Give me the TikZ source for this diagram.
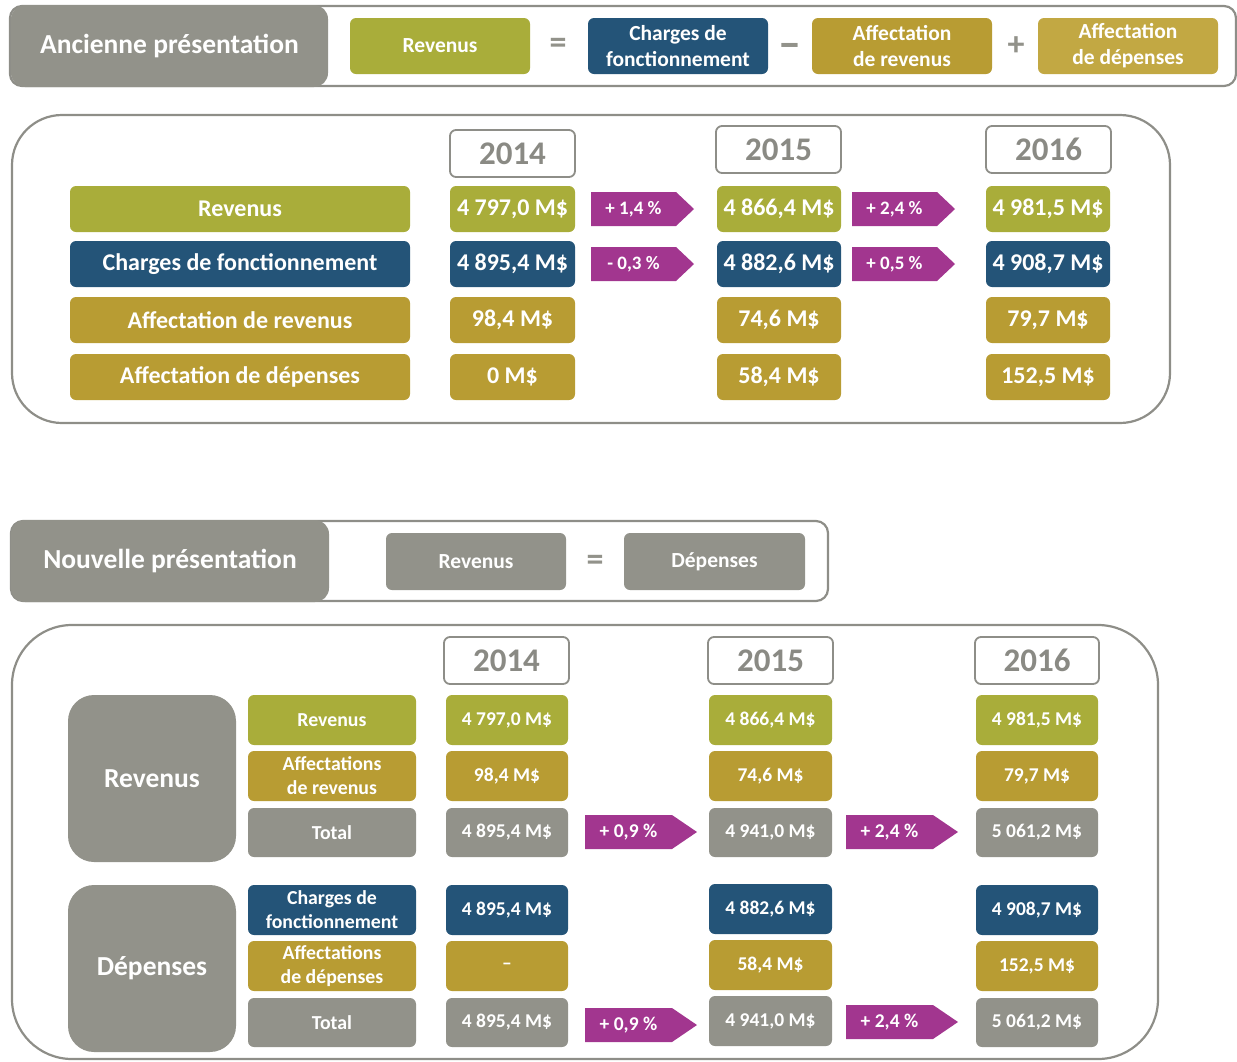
\documentclass[tikz,border=0pt]{standalone}
\usepackage{fontspec}
\setmainfont{Carlito}
\definecolor{cOlive}{HTML}{A9AD3A}
\definecolor{cNavy}{HTML}{245478}
\definecolor{cGold}{HTML}{B89C33}
\definecolor{cGoldL}{HTML}{C2A843}
\definecolor{cGray}{HTML}{92928A}
\definecolor{cMag}{HTML}{A2368F}
\definecolor{cLine}{HTML}{8E8E88}
\definecolor{cYear}{HTML}{8A8A84}
\newcommand\fs[2]{\fontsize{#1}{#2}\selectfont\bfseries}
\tikzset{
  box/.style={rounded corners=6pt, inner sep=0pt, outer sep=0pt, text=white, align=center},
  yearbox/.style={box, draw=cLine, line width=1.8pt, fill=white, text=cYear, font=\fs{33}{36}},
  panel/.style={draw=cLine, line width=2.2pt, inner sep=0pt, outer sep=0pt},
  sign/.style={text=cGray, font=\fs{34}{36}, inner sep=0pt},
  pct/.style={text=white, inner sep=0pt},
}
% \bx{name}{x1}{y1}{x2}{y2}{style}{text}
\newcommand\bx[7]{\node[box,#6,minimum width={(#4-#2)*1pt},minimum height={(#5-#3)*1pt}] (#1) at ({(#2+#4)/2},{(#3+#5)/2}) {#7};}
% \arr{name}{x1}{y1}{x2}{y2}{tip}{font}{text}
\newcommand\arr[8]{\fill[cMag] (#2,#3) -- ({#4-#6},#3) -- (#4,{(#3+#5)/2}) -- ({#4-#6},#5) -- (#2,#5) -- cycle;
  \node[pct,font=#7] (#1) at ({(#2+#4-#6)/2},{(#3+#5)/2}) {#8};}
\begin{document}
\begin{tikzpicture}[x=1pt,y=-1pt]
\useasboundingbox (0,0) rectangle (1237,1061);
% ---------------- Ancienne présentation header
\bx{hdrA}{10}{6}{1236}{86}{panel,rounded corners=12pt,fill=white}{}
\bx{titleA}{11}{5}{328}{87}{fill=cGray,rounded corners=14pt,font=\fs{27.5}{30}}{Ancienne présentation}
\bx{hRev}{350}{18}{530}{74}{fill=cOlive,font=\fs{21.5}{26}}{Revenus}
\node[sign] (eqA) at (558,46) {=};
\bx{hCh}{588}{18}{768}{74}{fill=cNavy,font=\fs{21.5}{26}}{Charges de\\fonctionnement}
\node[sign,font=\fs{46}{46}] (minA) at (790,51) {–};
\bx{hAR}{812}{18}{992}{74}{fill=cGold,font=\fs{21.5}{26}}{Affectation\\de revenus}
\node[sign] (plA) at (1016,46) {+};
\bx{hAD}{1038}{18}{1218}{74}{fill=cGoldL,font=\fs{21.5}{26}}{Affectation\\de dépenses}
% ---------------- top panel
\bx{panA}{12}{115}{1170}{423}{panel,rounded corners=50pt}{}
\bx{yA14}{450}{130}{575}{177}{yearbox}{2014}
\bx{yA15}{716}{126}{841}{173}{yearbox}{2015}
\bx{yA16}{986}{126}{1111}{173}{yearbox}{2016}
\tikzset{lA/.style={font=\fs{24}{26}}, vA/.style={font=\fs{24}{26}}}
\bx{rA1}{70}{186}{410}{232}{fill=cOlive,lA}{Revenus}
\bx{rA2}{70}{241}{410}{287}{fill=cNavy,lA}{Charges de fonctionnement}
\bx{rA3}{70}{297}{410}{343}{fill=cGold,lA}{Affectation de revenus}
\bx{rA4}{70}{354}{410}{400}{fill=cGold,lA}{Affectation de dépenses}
\bx{a14r}{450}{186}{575}{232}{fill=cOlive,vA}{4 797,0 M\$}
\bx{a15r}{717}{186}{841}{232}{fill=cOlive,vA}{4 866,4 M\$}
\bx{a16r}{986}{186}{1110}{232}{fill=cOlive,vA}{4 981,5 M\$}
\bx{a14c}{450}{241}{575}{287}{fill=cNavy,vA}{4 895,4 M\$}
\bx{a15c}{717}{241}{841}{287}{fill=cNavy,vA}{4 882,6 M\$}
\bx{a16c}{986}{241}{1110}{287}{fill=cNavy,vA}{4 908,7 M\$}
\bx{a14a}{450}{297}{575}{343}{fill=cGold,vA}{98,4 M\$}
\bx{a15a}{717}{297}{841}{343}{fill=cGold,vA}{74,6 M\$}
\bx{a16a}{986}{297}{1110}{343}{fill=cGold,vA}{79,7 M\$}
\bx{a14d}{450}{354}{575}{400}{fill=cGold,vA}{0 M\$}
\bx{a15d}{717}{354}{841}{400}{fill=cGold,vA}{58,4 M\$}
\bx{a16d}{986}{354}{1110}{400}{fill=cGold,vA}{152,5 M\$}
\arr{pA1}{591}{192}{694}{226}{18}{\fs{19}{20}}{+ 1,4 \%}
\arr{pA2}{852}{192}{955}{226}{18}{\fs{19}{20}}{+ 2,4 \%}
\arr{pA3}{591}{247}{694}{281}{18}{\fs{19}{20}}{- 0,3 \%}
\arr{pA4}{852}{247}{955}{281}{18}{\fs{19}{20}}{+ 0,5 \%}
% ---------------- Nouvelle présentation header
\bx{hdrB}{11}{521}{828}{601}{panel,rounded corners=12pt,fill=white}{}
\bx{titleB}{11}{520}{329}{602}{fill=cGray,rounded corners=14pt,font=\fs{27.5}{30}}{Nouvelle présentation}
\bx{hRevB}{386}{533}{566}{590}{fill=cGray,font=\fs{21.5}{26}}{Revenus}
\node[sign] (eqB) at (595,563) {=};
\bx{hDepB}{624}{533}{805}{590}{fill=cGray,font=\fs{21.5}{26}}{Dépenses}
% ---------------- bottom panel
\bx{panB}{12}{625}{1158}{1059}{panel,rounded corners=60pt}{}
\bx{yB14}{444}{637}{569}{684}{yearbox}{2014}
\bx{yB15}{708}{637}{833}{684}{yearbox}{2015}
\bx{yB16}{975}{637}{1099}{684}{yearbox}{2016}
\bx{catR}{68}{695}{236}{862}{fill=cGray,rounded corners=26pt,font=\fs{27.5}{30}}{Revenus}
\bx{catD}{68}{885}{236}{1052}{fill=cGray,rounded corners=26pt,font=\fs{27.5}{30}}{Dépenses}
\tikzset{lB/.style={font=\fs{19.8}{24}}, vB/.style={font=\fs{19.5}{22}}}
\bx{rB1}{248}{695}{416}{745}{fill=cOlive,lB}{Revenus}
\bx{rB2}{248}{751}{416}{801}{fill=cGold,lB}{Affectations\\de revenus}
\bx{rB3}{248}{808}{416}{857}{fill=cGray,lB}{Total}
\bx{rB4}{248}{885}{416}{935}{fill=cNavy,lB}{Charges de\\fonctionnement}
\bx{rB5}{248}{941}{416}{991}{fill=cGold,lB}{Affectations\\de dépenses}
\bx{rB6}{248}{998}{416}{1047}{fill=cGray,lB}{Total}
% 2014
\bx{b14a}{446}{695}{568}{745}{fill=cOlive,vB}{4 797,0 M\$}
\bx{b14b}{446}{751}{568}{801}{fill=cGold,vB}{98,4 M\$}
\bx{b14c}{446}{808}{568}{857}{fill=cGray,vB}{4 895,4 M\$}
\bx{b14d}{446}{885}{568}{935}{fill=cNavy,vB}{4 895,4 M\$}
\bx{b14e}{446}{941}{568}{991}{fill=cGold,vB}{–}
\bx{b14f}{446}{998}{568}{1047}{fill=cGray,vB}{4 895,4 M\$}
% 2015
\bx{b15a}{709}{695}{832}{745}{fill=cOlive,vB}{4 866,4 M\$}
\bx{b15b}{709}{751}{832}{801}{fill=cGold,vB}{74,6 M\$}
\bx{b15c}{709}{808}{832}{857}{fill=cGray,vB}{4 941,0 M\$}
\bx{b15d}{709}{884}{832}{934}{fill=cNavy,vB}{4 882,6 M\$}
\bx{b15e}{709}{940}{832}{990}{fill=cGold,vB}{58,4 M\$}
\bx{b15f}{709}{996}{832}{1046}{fill=cGray,vB}{4 941,0 M\$}
% 2016
\bx{b16a}{976}{695}{1098}{745}{fill=cOlive,vB}{4 981,5 M\$}
\bx{b16b}{976}{751}{1098}{801}{fill=cGold,vB}{79,7 M\$}
\bx{b16c}{976}{808}{1098}{857}{fill=cGray,vB}{5 061,2 M\$}
\bx{b16d}{976}{885}{1098}{935}{fill=cNavy,vB}{4 908,7 M\$}
\bx{b16e}{976}{941}{1098}{991}{fill=cGold,vB}{152,5 M\$}
\bx{b16f}{976}{998}{1098}{1047}{fill=cGray,vB}{5 061,2 M\$}
\arr{pB1}{585}{815}{697}{849}{25}{\fs{19.5}{22}}{+ 0,9 \%}
\arr{pB2}{846}{815}{958}{849}{25}{\fs{19.5}{22}}{+ 2,4 \%}
\arr{pB3}{585}{1008}{697}{1042}{25}{\fs{19.5}{22}}{+ 0,9 \%}
\arr{pB4}{846}{1005}{958}{1039}{25}{\fs{19.5}{22}}{+ 2,4 \%}
\end{tikzpicture}
\end{document}
